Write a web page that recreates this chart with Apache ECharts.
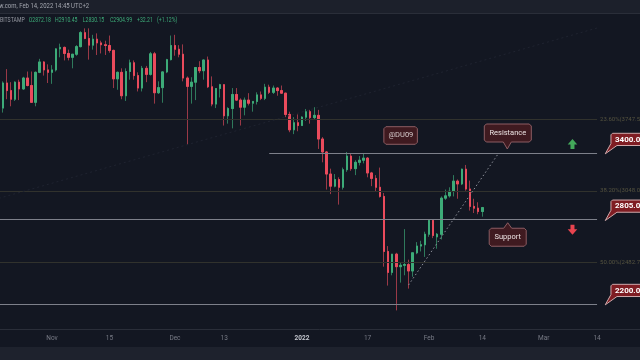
<!DOCTYPE html>
<html><head><meta charset="utf-8">
<script src="https://cdn.jsdelivr.net/npm/echarts/dist/echarts.min.js"></script>
<style>html,body{margin:0;padding:0;background:#131722;}#c{width:640px;height:360px;}</style>
</head><body><div id="c"></div><script>
// ---- data (ETH/USD daily, Bitstamp) ----
const dates = [
'2021-10-19','2021-10-20','2021-10-21','2021-10-22','2021-10-23','2021-10-24','2021-10-25','2021-10-26','2021-10-27','2021-10-28','2021-10-29','2021-10-30','2021-10-31',
'2021-11-01','2021-11-02','2021-11-03','2021-11-04','2021-11-05','2021-11-06','2021-11-07','2021-11-08','2021-11-09','2021-11-10','2021-11-11','2021-11-12','2021-11-13','2021-11-14','2021-11-15','2021-11-16','2021-11-17','2021-11-18','2021-11-19','2021-11-20','2021-11-21','2021-11-22','2021-11-23','2021-11-24','2021-11-25','2021-11-26','2021-11-27','2021-11-28','2021-11-29','2021-11-30',
'2021-12-01','2021-12-02','2021-12-03','2021-12-04','2021-12-05','2021-12-06','2021-12-07','2021-12-08','2021-12-09','2021-12-10','2021-12-11','2021-12-12','2021-12-13','2021-12-14','2021-12-15','2021-12-16','2021-12-17','2021-12-18','2021-12-19','2021-12-20','2021-12-21','2021-12-22','2021-12-23','2021-12-24','2021-12-25','2021-12-26','2021-12-27','2021-12-28','2021-12-29','2021-12-30','2021-12-31',
'2022-01-01','2022-01-02','2022-01-03','2022-01-04','2022-01-05','2022-01-06','2022-01-07','2022-01-08','2022-01-09','2022-01-10','2022-01-11','2022-01-12','2022-01-13','2022-01-14','2022-01-15','2022-01-16','2022-01-17','2022-01-18','2022-01-19','2022-01-20','2022-01-21','2022-01-22','2022-01-23','2022-01-24','2022-01-25','2022-01-26','2022-01-27','2022-01-28','2022-01-29','2022-01-30','2022-01-31',
'2022-02-01','2022-02-02','2022-02-03','2022-02-04','2022-02-05','2022-02-06','2022-02-07','2022-02-08','2022-02-09','2022-02-10','2022-02-11','2022-02-12','2022-02-13','2022-02-14'];
const opens = [
3745,3870,4160,4070,3970,4170,4090,4220,4130,3935,4290,4420,4320,
4290,4320,4590,4610,4530,4480,4520,4620,4810,4730,4640,4720,4670,4645,4635,4570,4210,4290,4010,4300,4410,4250,4100,4340,4265,4525,4045,4105,4295,4450,
4635,4585,4520,4220,4120,4170,4350,4310,4445,4115,3915,4095,4140,3785,3865,4025,3960,3880,3960,3925,3945,4020,3980,4110,4050,4100,4070,4040,3800,3635,3710,
3680,3770,3830,3765,3790,3540,3410,3200,3090,3150,3080,3240,3370,3250,3310,3330,3350,3210,3160,3080,3000,2560,2410,2540,2450,2460,2465,2420,2550,2600,2610,
2690,2800,2670,2690,2985,3005,3045,3135,3110,3245,3065,2915,2900,2872.18];
const highs = [
3880,4180,4330,4170,4180,4200,4235,4300,4300,4300,4460,4430,4390,
4380,4600,4660,4620,4580,4520,4640,4830,4870,4870,4780,4800,4700,4700,4770,4580,4300,4340,4340,4450,4440,4290,4370,4370,4550,4550,4180,4300,4460,4770,
4780,4640,4650,4240,4230,4350,4430,4450,4490,4240,4100,4150,4145,3880,4100,4100,3980,3990,4040,3950,4050,4060,4150,4140,4130,4110,4130,4045,3830,3770,3800,
3780,3860,3850,3880,3850,3560,3420,3250,3200,3170,3260,3410,3390,3330,3370,3390,3360,3220,3190,3260,3030,2600,2540,2550,2480,2730,2500,2550,2630,2640,2710,
2810,2810,2700,3000,3060,3080,3190,3150,3250,3285,3140,2980,2950,2910.45];
const lows = [
3720,3820,3970,3890,3950,3960,4080,4120,3930,3890,4280,4250,4160,
4150,4300,4480,4440,4440,4340,4500,4610,4720,4450,4580,4510,4530,4510,4540,4100,4080,3970,3950,4200,4200,4060,4060,4170,4250,3920,4030,3930,4280,4440,
4500,4480,4180,3480,3920,3960,4280,4200,4100,3890,3870,3990,3680,3700,3650,3950,3680,3790,3900,3830,3910,3960,3960,4030,4030,4010,4030,3770,3610,3590,3620,
3680,3730,3700,3740,3440,3310,3060,3020,3080,2930,3060,3220,3230,3190,3280,3300,3170,3090,3040,2990,2450,2320,2390,2160,2340,2390,2300,2380,2540,2560,2520,
2670,2660,2580,2650,2970,2990,3000,2980,3100,3050,2880,2860,2850,2830.15];
const closes = [
3870,4160,4070,3970,4170,4090,4220,4130,3935,4290,4420,4320,4290,
4320,4590,4610,4530,4480,4520,4620,4810,4730,4640,4720,4670,4645,4635,4570,4210,4290,4010,4300,4410,4250,4100,4340,4265,4525,4045,4105,4295,4450,4635,
4585,4520,4220,4120,4170,4350,4310,4445,4115,3915,4095,4140,3785,3865,4025,3960,3880,3960,3925,3945,4020,3980,4110,4050,4100,4070,4040,3800,3635,3710,3680,
3770,3830,3765,3790,3540,3410,3200,3090,3150,3080,3240,3370,3250,3310,3330,3350,3210,3160,3080,3000,2560,2410,2540,2450,2460,2465,2420,2550,2600,2610,2690,
2800,2680,2690,2985,3005,3045,3135,3110,3245,3065,2915,2900,2872,2904.99];

// horizontal levels
const srLevels = [3400, 2805, 2200];
const srLabels = ['3400.00', '2805.00', '2200.00'];
const fibLevels = [3747.56, 3048.07, 2482.74];
const fibLabels = ['23.60%(3747.56)', '38.20%(3048.07)', '50.00%(2482.74)'];
// trend lines [date, price]
const fibTrend = [['2021-10-19', 2983], ['2022-03-14', 4875]];
const supportTrend = [['2022-01-27', 2324], ['2022-02-18', 3400]];
// x-axis ticks
const tickDates = ['2021-11-01','2021-11-15','2021-12-01','2021-12-13','2022-01-01','2022-01-17','2022-02-01','2022-02-14','2022-03-01','2022-03-14'];
const tickLabels = ['Nov','15','Dec','13','2022','17','Feb','14','Mar','14'];

// axis categories: candle days plus empty future days to Mar 24
const axisDates = dates.slice();
(function(){
  let d = new Date(Date.UTC(2022,1,15));
  const end = Date.UTC(2022,2,24);
  while (d.getTime() <= end) { axisDates.push(d.toISOString().slice(0,10)); d = new Date(d.getTime()+86400000); }
})();

const UP = '#3dab78', DOWN = '#ea4b5c', WUP = '#2f7a5c', WDOWN = '#9a3947';
const wickData = dates.map((_, i) => [opens[i], closes[i], lows[i], highs[i]]);
const bodyData = dates.map((_, i) => [opens[i], closes[i], Math.min(opens[i], closes[i]), Math.max(opens[i], closes[i])]);

const markData = [];
srLevels.forEach((v, i) => {
  markData.push([{coord: [i === 0 ? '2021-12-24' : '2021-10-19', v], lineStyle: {color: '#7d808a', width: 1.2, type: 'solid'}}, {coord: ['2022-03-14', v]}]);
});
fibLevels.forEach((v, i) => {
  markData.push([{coord: ['2021-10-19', v], lineStyle: {color: '#31322d', width: 1, type: 'solid'},
    label: {show: true, position: 'end', formatter: fibLabels[i], color: '#55533f', fontSize: 6, distance: 3, fontFamily: 'Roboto'}},
    {coord: ['2022-03-14', v]}]);
});
markData.push([{coord: fibTrend[0], lineStyle: {color: '#1f2330', width: 1, type: [2, 3]}}, {coord: fibTrend[1]}]);
markData.push([{coord: supportTrend[0], lineStyle: {color: '#8e919b', width: 1, type: [1.5, 2.5]}}, {coord: supportTrend[1]}]);

const chart = echarts.init(document.getElementById('c'), null, {renderer: 'canvas'});
chart.setOption({
  backgroundColor: '#131722',
  animation: false,
  grid: {left: -3.3, top: 0, width: 643.4, height: 329, containLabel: false, outerBoundsMode: 'none'},
  xAxis: {
    type: 'category', data: axisDates, boundaryGap: true,
    axisLine: {show: true, lineStyle: {color: '#2a2e39', width: 1}},
    axisTick: {show: false}, splitLine: {show: false},
    axisLabel: {
      interval: (i, v) => tickDates.indexOf(v) >= 0,
      formatter: (v) => { const k = tickDates.indexOf(v); if (k < 0) return ''; return k === 4 ? '{b|' + tickLabels[k] + '}' : tickLabels[k]; },
      color: '#787b86', fontSize: 6.5, margin: 6, fontFamily: 'Roboto',
      rich: {b: {fontWeight: 'bold', color: '#c3c6ce', fontSize: 6.5, fontFamily: 'Roboto'}}
    }
  },
  yAxis: {
    type: 'log', logBase: 10, min: 2047.2, max: 5284.6,
    axisLine: {show: false}, axisTick: {show: false}, axisLabel: {show: false}, splitLine: {show: false}
  },
  series: [
    {type: 'candlestick', name: 'wick', data: wickData, barWidth: 2, silent: true,
     itemStyle: {color: WUP, color0: WDOWN, borderColor: WUP, borderColor0: WDOWN, borderWidth: 1},
     markLine: {symbol: 'none', silent: true, animation: false, label: {show: false}, data: markData}},
    {type: 'candlestick', name: 'body', data: bodyData, barWidth: 2, silent: true,
     itemStyle: {color: UP, color0: DOWN, borderColor: UP, borderColor0: DOWN, borderWidth: 1}}
  ]
});

function px(d, p) { return chart.convertToPixel({xAxisIndex: 0, yAxisIndex: 0}, [d, p]); }
function boxPts(x0, y0, x1, y1, c, ptr) {
  const p = [[x0 + c, y0]];
  if (ptr && ptr.side === 'top') p.push([ptr.x - ptr.hw, y0], [ptr.x, ptr.tip], [ptr.x + ptr.hw, y0]);
  p.push([x1 - c, y0], [x1, y0 + c], [x1, y1 - c], [x1 - c, y1]);
  if (ptr && ptr.side === 'bottom') p.push([ptr.x + ptr.hw, y1], [ptr.x, ptr.tip], [ptr.x - ptr.hw, y1]);
  p.push([x0 + c, y1], [x0, y1 - c], [x0, y0 + c]);
  return p;
}
const g = [];
const FONT = 'Roboto';
function txt(x, y, s, fill, size, opt) {
  opt = opt || {};
  return {type: 'text', z: 101, x: x, y: y, scaleX: opt.sx || 1, scaleY: 1,
    style: {x: 0, y: 0, text: s, fill: fill, font: (opt.bold ? 'bold ' : '') + size + 'px ' + FONT,
      align: opt.align || 'left', verticalAlign: 'middle', textAlign: opt.align || 'left', textVerticalAlign: 'middle'}};
}
// top header band
g.push({type: 'rect', z: 100, shape: {x: 0, y: 0, width: 640, height: 13}, style: {fill: '#1c202b'}});
g.push({type: 'line', z: 100, shape: {x1: 0, y1: 13.5, x2: 640, y2: 13.5}, style: {stroke: '#2a2e39', lineWidth: 1}});
g.push(txt(-1, 6.5, 'w.com, Feb 14, 2022 14:45 UTC+2', '#a3a6af', 6.3, {sx: 0.95}));
// legend line
const legendParts = [['BITSTAMP', 0, '#9598a1'], ['O2872.18', 28.7, UP], ['H2910.45', 55, UP], ['L2830.15', 82.7, UP], ['C2904.99', 110, UP], ['+32.21', 137, UP], ['(+1.12%)', 157, UP]];
legendParts.forEach(p => g.push(txt(p[1], 20.5, p[0], p[2], 6.3, {sx: 0.82})));
// bottom band
g.push({type: 'rect', z: 100, shape: {x: 0, y: 347, width: 640, height: 13}, style: {fill: '#1e222d'}});

// callouts
const BOXF = '#3f1a20', BOXS = '#8d5d63', BOXT = '#ece2e2';
{ // Resistance
  const a = px('2022-02-20', 3400); const tx = a[0] + 0.4, ty = a[1] - 4;
  const y1 = ty - 7, y0 = y1 - 18, x0 = tx - 23, x1 = tx + 24;
  g.push({type: 'polygon', z: 100, shape: {points: boxPts(x0, y0, x1, y1, 2, {side: 'bottom', x: tx, tip: ty, hw: 4})}, style: {fill: BOXF, stroke: BOXS, lineWidth: 1}});
  g.push(txt((x0 + x1) / 2, (y0 + y1) / 2, 'Resistance', BOXT, 7.5, {align: 'center'}));
}
{ // Support
  const a = px('2022-02-20', 2805); const tx = a[0] + 0.8, ty = a[1] + 3;
  const y0 = ty + 5.5, y1 = y0 + 18, x0 = tx - 18.5, x1 = tx + 18.5;
  g.push({type: 'polygon', z: 100, shape: {points: boxPts(x0, y0, x1, y1, 2, {side: 'top', x: tx, tip: ty, hw: 4})}, style: {fill: BOXF, stroke: BOXS, lineWidth: 1}});
  g.push(txt((x0 + x1) / 2, (y0 + y1) / 2, 'Support', BOXT, 7.5, {align: 'center'}));
}
{ // @DU09
  const a = px('2022-01-25', 3576);
  const x0 = a[0] - 16.5, x1 = a[0] + 17, y0 = a[1] - 8.8, y1 = a[1] + 8.8;
  g.push({type: 'polygon', z: 100, shape: {points: boxPts(x0, y0, x1, y1, 2, null)}, style: {fill: BOXF, stroke: BOXS, lineWidth: 1}});
  g.push(txt(a[0] + 0.5, a[1], '@DU09', '#d6cbcc', 7.5, {align: 'center'}));
}
// price callouts
srLevels.forEach((v, i) => {
  const a = px('2022-03-16', v); const tx = a[0], ty = a[1] + 0.8;
  const x0 = tx + 5.7, y0 = ty - 20.5, y1 = ty - 8.3;
  const pts = [[x0 + 1.5, y0], [660, y0], [660, y1], [x0 + 6, y1], [tx, ty], [x0, y1 - 2], [x0, y0 + 1.5]];
  g.push({type: 'polygon', z: 100, shape: {points: pts}, style: {fill: '#7f1d23', stroke: '#cfa9ab', lineWidth: 1}});
  g.push(txt(x0 + 4, (y0 + y1) / 2 + 0.3, srLabels[i], '#ffffff', 8, {bold: true}));
});
// arrows
{
  const a = px('2022-03-08', 3400); const cx = a[0], bot = a[1] - 4, top = bot - 10;
  g.push({type: 'polygon', z: 100, shape: {points: [[cx, top], [cx + 4.8, top + 5.5], [cx + 2, top + 5.5], [cx + 2, bot], [cx - 2, bot], [cx - 2, top + 5.5], [cx - 4.8, top + 5.5]]}, style: {fill: '#43a95a'}});
  const b = px('2022-03-08', 2805); const cx2 = b[0], t2 = b[1] + 5, b2 = t2 + 10;
  g.push({type: 'polygon', z: 100, shape: {points: [[cx2, b2], [cx2 + 4.8, b2 - 5.5], [cx2 + 2, b2 - 5.5], [cx2 + 2, t2], [cx2 - 2, t2], [cx2 - 2, b2 - 5.5], [cx2 - 4.8, b2 - 5.5]]}, style: {fill: '#e8444f'}});
}
chart.setOption({graphic: g});
</script></body></html>
